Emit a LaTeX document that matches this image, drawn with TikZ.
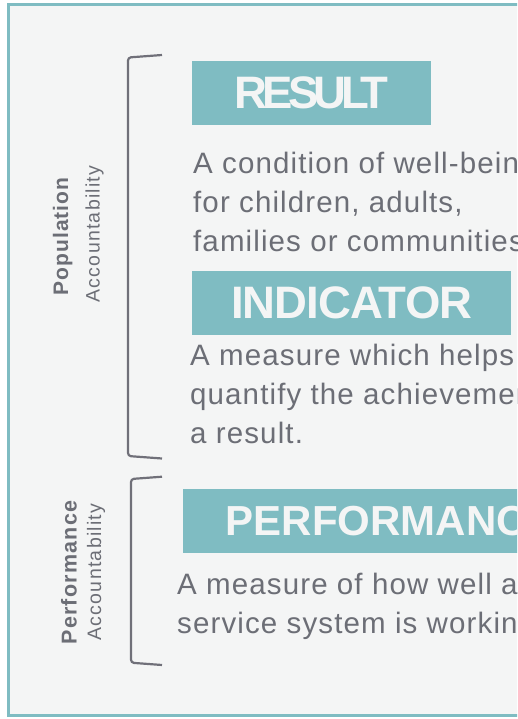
\documentclass[tikz,border=0pt]{standalone}
\usepackage{fontspec}
\setmainfont{Liberation Sans}
\definecolor{panel}{HTML}{F4F5F5}
\definecolor{teal}{HTML}{7FBCC2}
\definecolor{ink}{HTML}{6C6E76}
\definecolor{brace}{HTML}{707079}
\begin{document}
\begin{tikzpicture}[x=1pt,y=-1pt,
  titlebox/.style={fill=teal, text=panel, inner sep=0pt, anchor=north west,
    font=\fontsize{45.5}{50}\selectfont\bfseries},
  % multi-line body text: the base anchor sits on the last line
  bodytext/.style={text=ink, inner sep=0pt, anchor=base west, align=left,
    font=\fontsize{29.5}{38.7}\selectfont\addfontfeature{LetterSpace=3.8}},
  sidehead/.style={text=ink, inner sep=0pt, anchor=base, rotate=90,
    font=\fontsize{21}{24}\selectfont\bfseries\addfontfeature{LetterSpace=5}},
  sidesub/.style={text=ink, inner sep=0pt, anchor=base, rotate=90,
    font=\fontsize{19.5}{24}\selectfont\addfontfeature{LetterSpace=6.5}},
  bracket/.style={draw=brace, line width=2.2pt, rounded corners=3pt}]
\useasboundingbox (0,0) rectangle (517,719);
\clip (0,0) rectangle (517,719);
\fill[white] (0,0) rectangle (517,719);
% outer panel
\draw[draw=teal, fill=panel, line width=3pt] (8.5,4.5) rectangle (640,715.5);

% brackets grouping the two kinds of accountability
\draw[bracket] (162,55) -- (128,57.5) -- (128,456) -- (162,458.5);
\draw[bracket] (162,476.7) -- (131,479) -- (131,662.7) -- (162,665);

% side labels
\node[sidehead] (pophead) at (68,236.5) {Population};
\node[sidesub]  (popsub)  at (99.5,234) {Accountability};
\node[sidehead, font=\fontsize{21.5}{24}\selectfont\bfseries\addfontfeature{LetterSpace=5.8}]
  (perfhead) at (76.5,572.5) {Performance};
\node[sidesub]  (perfsub) at (101,572) {Accountability};

% RESULT
\node[titlebox, minimum width=239pt, minimum height=64pt,
  font=\fontsize{45.5}{50}\selectfont\bfseries\addfontfeature{LetterSpace=-11}]
  (result) at (192,61) {RESULT};
\node[bodytext] (resulttext) at (193,251.4)
  {A condition of well-being\\for children, adults,\\families or communities.};

% INDICATOR
\node[titlebox, minimum width=319pt, minimum height=64pt,
  font=\fontsize{45.5}{50}\selectfont\bfseries\addfontfeature{LetterSpace=-2}]
  (indicator) at (192,271) {INDICATOR};
\node[bodytext] (indicatortext) at (190,443)
  {A measure which helps\\quantify the achievement of\\a result.};

% PERFORMANCE
\node[titlebox, minimum width=414pt, minimum height=64pt,
  font=\fontsize{42}{50}\selectfont\bfseries]
  (performance) at (183,489) {PERFORMANCE};
\node[bodytext] (performancetext) at (177,633.5)
  {A measure of how well a\\service system is working.};
\end{tikzpicture}
\end{document}
